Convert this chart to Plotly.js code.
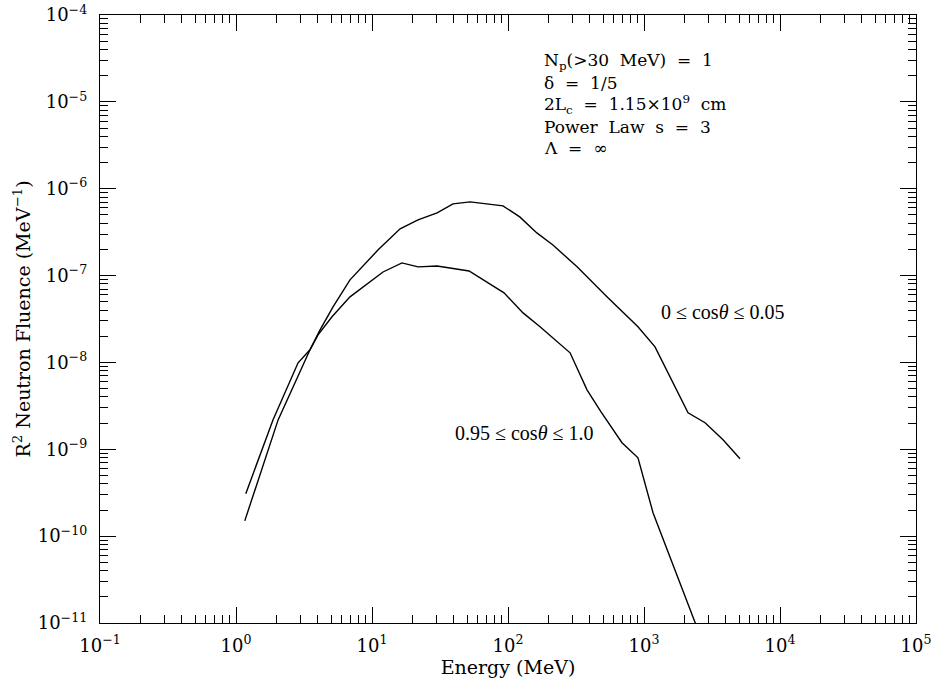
<!DOCTYPE html>
<html>
<head>
<meta charset="utf-8">
<script src="https://cdn.plot.ly/plotly-3.0.1.min.js"></script>
<style>html,body{margin:0;padding:0;background:#fff;}#chart{width:934px;height:681px;}</style>
</head>
<body>
<div id="chart"></div>
<script>
// Curve: 0.95 <= cos(theta) <= 1.0
const energyForward = [1.18, 1.87, 2.86, 3.50, 4.01, 5.08, 6.89, 12.05, 16.6, 21.8, 30.1, 51.7, 93.5, 129, 172, 286, 381, 483, 689, 903, 1165, 2600];
const fluenceForward = [3.08e-10, 2.18e-9, 9.9e-9, 1.40e-8, 2.08e-8, 3.35e-8, 5.69e-8, 1.10e-7, 1.40e-7, 1.26e-7, 1.29e-7, 1.13e-7, 6.32e-8, 3.72e-8, 2.57e-8, 1.29e-8, 4.84e-9, 2.70e-9, 1.19e-9, 7.98e-10, 1.86e-10, 7.0e-12];

// Curve: 0 <= cos(theta) <= 0.05
const energyPerp = [1.16, 2.04, 3.50, 4.15, 5.17, 6.89, 11.1, 16.1, 21.8, 30.1, 39.4, 52.6, 91.9, 122, 163, 214, 322, 534, 903, 1205, 2108, 2812, 3811, 5082];
const fluencePerp = [1.50e-10, 2.18e-9, 1.40e-8, 2.37e-8, 4.37e-8, 8.93e-8, 1.98e-7, 3.45e-7, 4.37e-7, 5.27e-7, 6.69e-7, 7.05e-7, 6.34e-7, 4.74e-7, 3.10e-7, 2.25e-7, 1.26e-7, 5.69e-8, 2.57e-8, 1.51e-8, 2.63e-9, 2.02e-9, 1.29e-9, 7.78e-10];

const xTickVals = [1e-1, 1e0, 1e1, 1e2, 1e3, 1e4, 1e5];
const xTickText = ['10<sup>\u22121</sup>', '10<sup>0</sup>', '10<sup>1</sup>', '10<sup>2</sup>', '10<sup>3</sup>', '10<sup>4</sup>', '10<sup>5</sup>'];
const yTickVals = [1e-11, 1e-10, 1e-9, 1e-8, 1e-7, 1e-6, 1e-5, 1e-4];
const yTickText = ['10<sup>\u221211</sup>', '10<sup>\u221210</sup>', '10<sup>\u22129</sup>', '10<sup>\u22128</sup>', '10<sup>\u22127</sup>', '10<sup>\u22126</sup>', '10<sup>\u22125</sup>', '10<sup>\u22124</sup>'];

const curveLabels = ['0 \u2264 cos<i>\u03b8</i> \u2264 0.05', '0.95 \u2264 cos<i>\u03b8</i> \u2264 1.0'];
const S = '\u00a0\u00a0';
const paramLines = [
  'N<sub>p</sub>(&gt;30' + S + 'MeV)' + S + '=' + S + '1',
  '\u03b4' + S + '=' + S + '1/5',
  '2L<sub>c</sub>' + S + '=' + S + '1.15\u00d710<sup>9</sup>' + S + 'cm',
  'Power' + S + 'Law' + S + 's' + S + '=' + S + '3',
  '\u039b' + S + '=' + S + '\u221e'
];

// minor tick positions (2..9 within each decade) — axis decoration only
function minorLogTicks(lo, hi) {
  const out = [];
  for (let e = lo; e < hi; e++) for (let m = 2; m <= 9; m++) out.push(m * Math.pow(10, e));
  return out;
}

const F = 'DejaVu Serif, Liberation Serif, serif';

const traces = [
  {x: energyForward, y: fluenceForward, mode: 'lines', line: {color: '#000', width: 1.4}, showlegend: false, hoverinfo: 'skip'},
  {x: energyPerp, y: fluencePerp, mode: 'lines', line: {color: '#000', width: 1.4}, showlegend: false, hoverinfo: 'skip'}
];

const paramY = [0.9227, 0.8882, 0.852, 0.8158, 0.7812];
const annotations = paramLines.map((t, i) => ({
  text: t, xref: 'paper', yref: 'paper', x: 0.5417, y: paramY[i],
  xanchor: 'left', yanchor: 'middle', showarrow: false,
  font: {family: F, size: 17, color: '#000'}
}));
annotations.push({text: curveLabels[0], xref: 'paper', yref: 'paper', x: (722 - 100) / 816, y: (623 - 312) / 608,
  xanchor: 'center', yanchor: 'middle', showarrow: false, font: {family: 'Liberation Serif, serif', size: 20, color: '#000'}});
annotations.push({text: curveLabels[1], xref: 'paper', yref: 'paper', x: (524 - 100) / 816, y: (623 - 433) / 608,
  xanchor: 'center', yanchor: 'middle', showarrow: false, font: {family: 'Liberation Serif, serif', size: 20, color: '#000'}});

const axisCommon = {
  type: 'log', showgrid: false, zeroline: false,
  showline: true, linecolor: '#000', linewidth: 1.2, mirror: 'ticks',
  ticks: 'inside', ticklen: 16, tickwidth: 1, tickcolor: '#000',
  tickmode: 'array',
  tickfont: {family: F, size: 18, color: '#000'}
};

const layout = {
  width: 934, height: 681,
  margin: {l: 100, r: 18, t: 15, b: 58},
  paper_bgcolor: '#fff', plot_bgcolor: '#fff',
  showlegend: false,
  xaxis: Object.assign({}, axisCommon, {
    range: [-1, 5], tickvals: xTickVals, ticktext: xTickText, ticklabelstandoff: 6,
    minor: {tickmode: 'array', tickvals: minorLogTicks(-1, 5), ticks: 'inside', ticklen: 8, tickwidth: 1, tickcolor: '#000', showgrid: false},
    title: {text: 'Energy (MeV)', font: {family: F, size: 19, color: '#000'}, standoff: 2}
  }),
  yaxis: Object.assign({}, axisCommon, {
    range: [-11, -4], tickvals: yTickVals, ticktext: yTickText, ticklabelstandoff: 8,
    minor: {tickmode: 'array', tickvals: minorLogTicks(-11, -4), ticks: 'inside', ticklen: 8, tickwidth: 1, tickcolor: '#000', showgrid: false},
    title: {text: 'R<sup>2</sup> Neutron Fluence (MeV<sup>\u22121</sup>)', font: {family: F, size: 19, color: '#000'}, standoff: 2}
  }),
  annotations: annotations
};

Plotly.newPlot('chart', traces, layout, {displayModeBar: false, staticPlot: true});
</script>
</body>
</html>
